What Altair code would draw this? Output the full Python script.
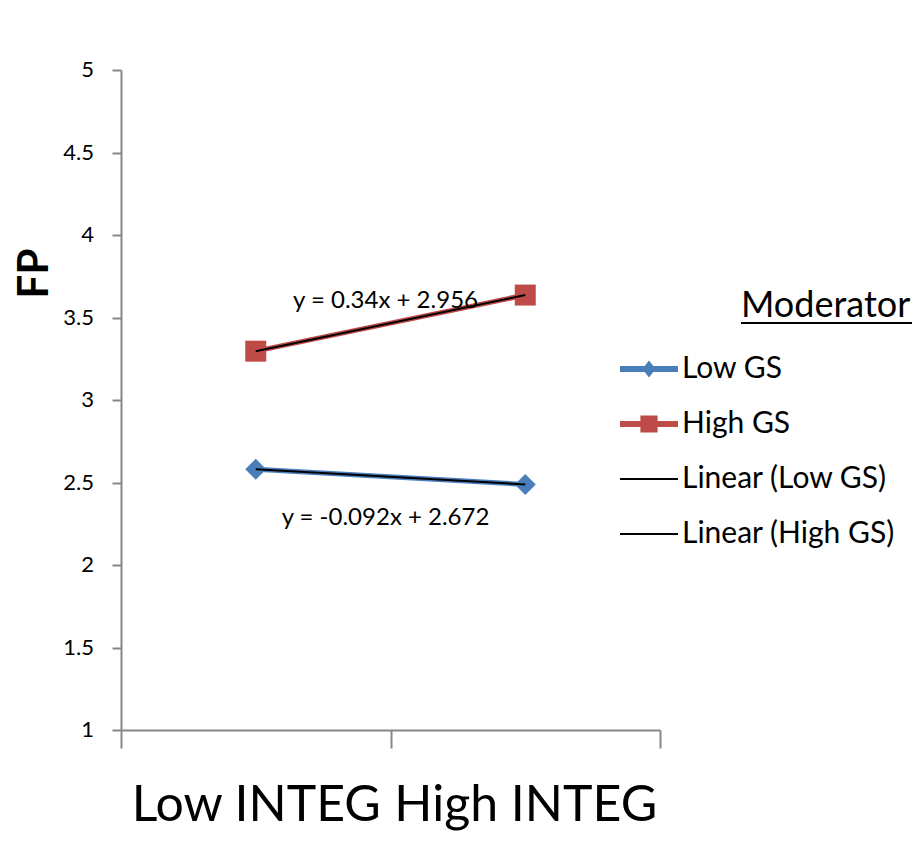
import altair as alt
import pandas as pd

# ---- data ----
integ_labels = ["Low INTEG", "High INTEG"]
integ_pos = [1, 2]
low_gs = [2.58, 2.488]
high_gs = [3.296, 3.636]
series_names = ["Low GS", "High GS"]
legend_names = ["Low GS", "High GS", "Linear (Low GS)", "Linear (High GS)"]
y_ticks = [1, 1.5, 2, 2.5, 3, 3.5, 4, 4.5, 5]
y_tick_labels = ["1", "1.5", "2", "2.5", "3", "3.5", "4", "4.5", "5"]
x_bounds = [0.5, 1.5, 2.5]

rows = []
for name, vals in zip(series_names, [low_gs, high_gs]):
    for lab, pos, v in zip(integ_labels, integ_pos, vals):
        rows.append({"series": name, "integ": lab, "idx": pos, "fp": v})
df = pd.DataFrame(rows)
ytick_df = pd.DataFrame({"fp": y_ticks, "lab": y_tick_labels})

BLUE = "#4A7EBB"
RED = "#BE4B48"
AXIS = "#868686"
FONT = "Lato"

color_scale = alt.Scale(domain=legend_names, range=[BLUE, RED, "black", "black"])
path_low = "M-1.45,-0.15H1.45V0.15H-1.45Z M0,-0.43L0.33,0L0,0.43L-0.33,0Z"
path_high = "M-1.45,-0.15H1.45V0.15H-1.45Z M-0.43,-0.43H0.43V0.43H-0.43Z"
path_lin = "M-1.45,-0.05H1.45V0.05H-1.45Z"
shape_scale = alt.Scale(domain=legend_names, range=[path_low, path_high, path_lin, path_lin])

xs = alt.Scale(domain=[0.5, 2.5], nice=False, zero=False)
ys = alt.Scale(domain=[1, 5], nice=False, zero=False)

y_axis = alt.Axis(
    values=y_ticks, labels=False, grid=False,
    domainColor=AXIS, domainWidth=2, tickColor=AXIS, tickWidth=2, tickSize=9,
    title="FP", titleFont=FONT, titleFontSize=42, titleFontWeight="bold",
    titleColor="black", titleAngle=-90, titleX=-87, titleY=203,
    titleAlign="center", titleBaseline="middle",
)
x_axis_ticks = alt.Axis(
    orient="bottom", values=x_bounds, labels=False, grid=False, title=None,
    domainColor=AXIS, domainWidth=2, tickColor=AXIS, tickWidth=2, tickSize=18,
)
lab_map = "datum.value == 1 ? '" + integ_labels[0] + "' : '" + integ_labels[1] + "'"
x_axis_labels = alt.Axis(
    orient="bottom", values=integ_pos, labelExpr=lab_map, grid=False, title=None,
    domain=False, ticks=False, labelFont=FONT, labelFontSize=50, labelLimit=0,
    labelColor="black", labelPadding=50, labelBaseline="top",
)

legend_def = alt.Legend(
    orient="none", legendX=508, legendY=279, title=None,
    symbolSize=1600, symbolOpacity=1, symbolStrokeWidth=0,
    labelFont=FONT, labelFontSize=30, labelColor="black", labelLimit=0,
    rowPadding=20, labelOffset=13, padding=0,
)

base = alt.Chart(df)
Y = alt.Y("fp:Q", scale=ys, axis=y_axis)


def series_line(name, color, x_axis):
    return base.transform_filter(alt.datum.series == name).mark_line(
        strokeWidth=5, strokeCap="round", color=color
    ).encode(x=alt.X("idx:Q", scale=xs, axis=x_axis), y=Y)


def series_pts(name, color, shape, size, x_axis):
    return base.transform_filter(alt.datum.series == name).mark_point(
        shape=shape, filled=True, size=size, opacity=1, color=color
    ).encode(x=alt.X("idx:Q", scale=xs, axis=x_axis), y=Y)


line_low = series_line("Low GS", BLUE, x_axis_ticks)
line_high = series_line("High GS", RED, None)
pts_low = series_pts("Low GS", BLUE, "diamond", 440, x_axis_labels)
pts_high = series_pts("High GS", RED, "square", 441, None)

# y tick labels, right-aligned 18px left of the tick ends
ytick_labels = alt.Chart(ytick_df).mark_text(
    font=FONT, fontSize=22, color="black", align="right", baseline="middle"
).encode(x=alt.value(-27), y=Y, text="lab:N")

trend = base.transform_regression(
    "idx", "fp", groupby=["series"], method="linear"
).mark_line(color="black", strokeWidth=2).encode(
    x=alt.X("idx:Q", scale=xs, axis=None), y=Y, detail="series:N",
)

eq_text = (
    "'y = ' + replace(format(datum.coef[1], '.3~f'), '\u2212', '-') + 'x + ' + "
    "replace(format(datum.coef[0], '.3~f'), '\u2212', '-')"
)


def eq_layer(name, dy):
    return base.transform_filter(alt.datum.series == name).transform_regression(
        "idx", "fp", groupby=["series"], method="linear", params=True
    ).transform_calculate(
        xm="1.5", fp="datum.coef[0] + datum.coef[1] * 1.5", label=eq_text
    ).mark_text(
        font=FONT, fontSize=24, color="black", align="center", baseline="middle",
        dy=dy, dx=-5,
    ).encode(
        x=alt.X("xm:Q", scale=xs, axis=None), y=Y, text="label:N",
    )


eq_high = eq_layer("High GS", -22)
eq_low = eq_layer("Low GS", 41)

legend_layer = base.mark_point(filled=True, opacity=0).encode(
    x=alt.X("idx:Q", scale=xs, axis=None),
    y=Y,
    color=alt.Color("series:N", scale=color_scale, legend=legend_def),
    shape=alt.Shape("series:N", scale=shape_scale, legend=legend_def),
)

deco = alt.Chart(alt.InlineData(values=[{"k": 1}]))
legend_title = deco.mark_text(
    font=FONT, fontSize=36, color="black", align="left", baseline="alphabetic"
).encode(x=alt.value(620), y=alt.value(247), text=alt.value("Moderator"))
legend_underline = deco.mark_rule(color="black", strokeWidth=2).encode(
    x=alt.value(620), x2=alt.value(791), y=alt.value(253)
)

chart = alt.layer(
    line_low, line_high, pts_low, pts_high, ytick_labels, trend, eq_high, eq_low,
    legend_layer, legend_title, legend_underline,
).resolve_axis(x="independent").properties(
    width=539, height=660,
    autosize=alt.AutoSizeParams(type="none"),
    padding={"left": 113, "top": 62, "right": 253, "bottom": 110},
    background="white",
).configure_view(stroke=None)

chart.save("out.html", embed_options={"renderer": "svg", "actions": False})
